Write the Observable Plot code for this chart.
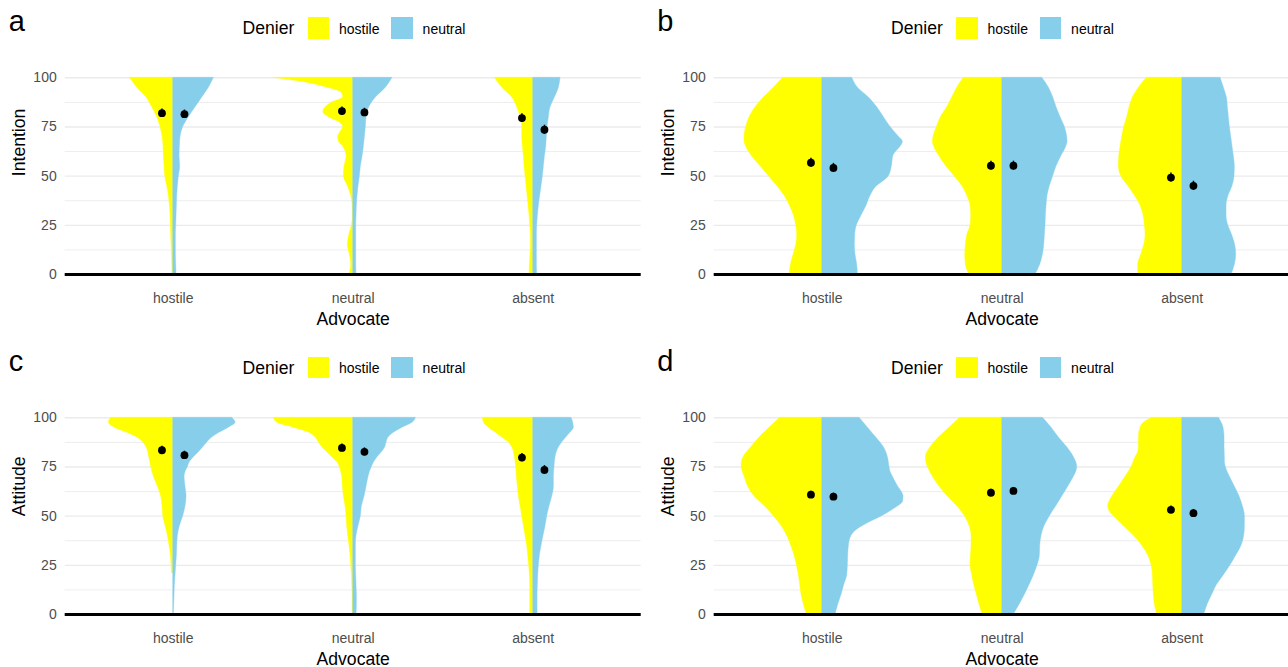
<!DOCTYPE html>
<html><head><meta charset="utf-8">
<script src="https://cdn.jsdelivr.net/npm/d3@7"></script>
<script src="https://cdn.jsdelivr.net/npm/@observablehq/plot@0.6"></script>
<style>
body{margin:0;background:#fff;font-family:"Liberation Sans",Arial,Helvetica,sans-serif;}
#chart{position:relative;width:1288px;height:667px;overflow:hidden;background:#fff;}
.panel{position:absolute;width:644px;height:334px;}
.panel svg{position:absolute;left:0;top:0;}
.tag{position:absolute;left:8.8px;top:7.2px;font-size:29px;line-height:1;color:#000;}
.leg-title{position:absolute;left:242.6px;top:20.1px;font-size:17.6px;line-height:1;color:#000;}
.key{position:absolute;top:17.3px;width:21.7px;height:21.7px;}
.leg-label{position:absolute;top:21.5px;font-size:14px;line-height:1;color:#000;}
</style></head>
<body><div id="chart"></div>
<script>
// ---------- categories & ticks ----------
const advocates = ["hostile", "neutral", "absent"];
const deniers = ["hostile", "neutral"];
const denierColors = ["#FFFF00", "#87CEEB"];
const yTicks = [0, 25, 50, 75, 100];
const yMinorTicks = [12.5, 37.5, 62.5, 87.5];

// ---------- violin half densities: [value, relative density] ----------
// Panel a (Intention, study 1)
const aHostileH = [[100,130],[95,108],[90,80],[85,63],[80,48],[75,38],[70,32],[65,29],[60,28],[55,26],[50,24],[45,18],[40,13],[35,10],[30,8],[25,7],[20,6],[15,5],[10,4],[5,3],[0,2]];
const aHostileN = [[100,122],[95,107],[90,87],[85,67],[80,47],[75,30],[70,22],[65,20],[60,19],[55,21],[50,17],[45,14],[40,12],[35,11],[30,10],[25,9],[20,8],[15,8],[10,8],[5,9],[0,10]];
const aNeutralH = [[100,240],[97.5,140],[95,78],[92.5,35],[90,30],[87.5,63],[85,83],[82.5,90],[80,73],[77.5,43],[75,30],[72.5,38],[70,45],[67.5,43],[65,30],[60,20],[55,26],[50,28],[45,16],[40,6],[35,2],[30,1],[25,4],[20,12],[15,16],[10,10],[5,6],[0,12]];
const aNeutralN = [[100,118],[95,98],[90,68],[85,48],[80,40],[75,38],[70,35],[65,32],[60,28],[55,23],[50,20],[45,16],[40,13],[35,11],[30,10],[25,9],[20,9],[15,9],[10,9],[5,9],[0,10]];
const aAbsentH = [[100,115],[95,93],[90,63],[85,48],[80,38],[75,33],[70,33],[65,31],[60,28],[55,26],[50,23],[45,20],[40,17],[35,14],[30,11],[25,9],[20,7],[15,7],[10,8],[5,10],[0,11]];
const aAbsentN = [[100,82],[95,77],[90,65],[85,52],[80,47],[75,43],[70,41],[65,39],[60,35],[55,32],[50,29],[45,25],[40,21],[35,17],[30,14],[25,12],[20,11],[15,11],[10,11],[5,11],[0,12]];
// Panel b (Intention, study 2)
const bHostileH = [[100,117],[95,145],[90,175],[85,200],[80,218],[75,228],[70,233],[67.5,233],[65,228],[60,210],[55,185],[50,160],[45,135],[40,113],[35,97],[30,85],[25,78],[20,75],[15,78],[10,86],[5,94],[0,98]];
const bHostileN = [[100,90],[95,107],[90,140],[85,165],[80,185],[75,205],[70,230],[67.5,242],[65,235],[62.5,222],[60,213],[55,209],[50,200],[47.5,185],[45,165],[40,145],[35,133],[30,118],[25,104],[20,99],[15,98],[10,100],[5,105],[0,107]];
const bNeutralH = [[100,115],[95,135],[90,150],[85,165],[80,184],[75,196],[70,206],[67.5,208],[65,204],[60,188],[55,168],[50,143],[45,120],[40,105],[35,95],[30,93],[25,95],[20,105],[15,109],[10,111],[5,109],[0,99]];
const bNeutralN = [[100,120],[95,140],[90,153],[85,163],[80,175],[75,188],[70,195],[67.5,196],[65,192],[60,177],[55,163],[50,153],[45,143],[40,136],[35,133],[30,131],[25,130],[20,128],[15,126],[10,122],[5,114],[0,100]];
const bAbsentH = [[100,106],[95,130],[90,148],[85,158],[80,165],[75,174],[70,180],[65,185],[60,189],[55,190],[50,183],[45,162],[40,142],[35,125],[30,116],[25,112],[20,110],[15,114],[10,123],[5,132],[0,132]];
const bAbsentN = [[100,115],[95,125],[90,134],[85,137],[80,140],[75,143],[70,147],[65,151],[60,155],[55,158],[50,157],[45,151],[40,139],[35,133],[30,133],[25,138],[20,150],[15,159],[10,162],[5,158],[0,148]];
// Panel c (Attitude, study 1)
const cHostileH = [[100,186],[97.5,193],[95,175],[92.5,140],[90,108],[87.5,90],[85,80],[80,72],[75,66],[70,58],[65,46],[60,36],[55,32],[50,30],[45,23],[40,16],[35,11],[30,7],[25,5],[21,4]];
const cHostileN = [[100,177],[97.5,187],[95,167],[92.5,140],[90,117],[87.5,102],[85,90],[82.5,77],[80,62],[77.5,50],[75,44],[72.5,37],[70,34],[65,37],[60,40],[55,37],[50,30],[45,20],[40,14],[35,12],[30,11],[25,9],[20,7],[15,5],[10,4],[5,3],[0,2]];
const cNeutralH = [[100,238],[97.5,228],[95,178],[92.5,133],[90,113],[87.5,103],[85,93],[82.5,78],[80,63],[77.5,48],[75,40],[72.5,36],[70,33],[65,31],[60,28],[55,23],[50,20],[45,18],[40,15],[35,11],[30,8],[25,6],[20,4],[15,3],[10,2],[5,2],[0,2]];
const cNeutralN = [[100,188],[97.5,178],[95,148],[92.5,123],[90,106],[87.5,100],[85,96],[82.5,86],[80,73],[77.5,63],[75,56],[72.5,50],[70,46],[65,40],[60,34],[55,26],[50,23],[45,16],[40,10],[35,8],[30,8],[25,8],[20,9],[15,10],[10,11],[5,11],[0,10]];
const cAbsentH = [[100,151],[97.5,148],[95,133],[92.5,113],[90,93],[87.5,73],[85,63],[80,55],[75,51],[70,49],[65,46],[60,43],[55,38],[50,33],[45,28],[40,23],[35,18],[30,15],[25,12],[20,10],[15,9],[10,9],[5,9],[0,9]];
const cAbsentN = [[100,115],[97.5,120],[95,122],[92.5,112],[90,99],[87.5,87],[85,77],[80,67],[75,64],[70,62],[65,62],[60,57],[55,49],[50,42],[45,37],[40,31],[35,25],[30,20],[25,17],[20,15],[15,14],[10,13],[5,13],[0,13]];
// Panel d (Attitude, study 2)
const dHostileH = [[100,126],[95,158],[90,188],[85,213],[80,236],[77.5,241],[75,242],[72.5,238],[70,233],[65,222],[60,203],[55,172],[50,145],[45,122],[40,105],[35,93],[30,83],[25,76],[20,70],[15,66],[10,62],[5,55],[0,46]];
const dHostileN = [[100,112],[95,137],[90,162],[85,185],[80,197],[75,202],[72.5,205],[70,212],[65,228],[62.5,238],[60,244],[57.5,243],[55,228],[52.5,205],[50,180],[47.5,150],[45,122],[42.5,100],[40,88],[35,80],[30,78],[25,77],[20,75],[15,66],[10,58],[5,48],[0,40]];
const dNeutralH = [[100,126],[95,158],[90,190],[85,215],[80,229],[77.5,228],[75,223],[70,208],[65,188],[60,163],[55,135],[50,112],[45,98],[40,92],[35,92],[30,94],[25,95],[20,90],[15,84],[10,76],[5,68],[0,59]];
const dNeutralN = [[100,122],[95,148],[90,170],[85,195],[80,215],[77.5,222],[75,225],[72.5,222],[70,215],[65,198],[60,180],[55,162],[50,143],[45,127],[40,118],[35,114],[30,113],[25,106],[20,95],[15,82],[10,68],[5,52],[0,35]];
const dAbsentH = [[100,90],[97.5,115],[95,125],[90,130],[85,130],[82.5,132],[80,140],[75,152],[70,170],[65,190],[60,210],[57.5,218],[55,222],[52.5,218],[50,205],[45,175],[40,145],[35,120],[30,102],[25,92],[20,88],[15,87],[10,85],[5,82],[0,75]];
const dAbsentN = [[100,110],[95,124],[90,127],[85,127],[80,128],[77.5,128],[75,131],[70,143],[65,158],[60,172],[55,182],[50,188],[45,188],[40,186],[35,178],[30,162],[25,145],[20,125],[15,104],[10,90],[5,76],[0,66]];

// ---------- means (hostile denier, neutral denier) per advocate ----------
const aMeanH = [82.0, 83.1, 79.5], aMeanN = [81.5, 82.4, 73.6];
const bMeanH = [56.8, 55.3, 49.3], bMeanN = [54.2, 55.3, 45.1];
const cMeanH = [83.5, 84.7, 79.8], cMeanN = [81.0, 82.7, 73.5];
const dMeanH = [60.9, 61.9, 53.2], dMeanN = [59.9, 62.8, 51.5];
// standard errors
const aSeH = [2.1, 2.1, 2.2], aSeN = [2.1, 2.1, 2.3];
const bSeH = [2.3, 2.3, 2.3], bSeN = [2.3, 2.3, 2.3];
const cSeH = [2.0, 2.0, 2.1], cSeN = [2.0, 2.0, 2.2];
const dSeH = [1.8, 1.8, 1.9], dSeN = [1.8, 1.8, 1.9];

// ---------- build ----------
const densityToWidth = 1 / 540;
const dodge = 0.0625;

const panels = [
  {tag: "a", left: 0, top: 0, yTitle: "Intention",
   halves: [[aHostileH, aHostileN], [aNeutralH, aNeutralN], [aAbsentH, aAbsentN]],
   means: [aMeanH, aMeanN], ses: [aSeH, aSeN]},
  {tag: "b", left: 648.5, top: 0, yTitle: "Intention",
   halves: [[bHostileH, bHostileN], [bNeutralH, bNeutralN], [bAbsentH, bAbsentN]],
   means: [bMeanH, bMeanN], ses: [bSeH, bSeN]},
  {tag: "c", left: 0, top: 339.5, yTitle: "Attitude",
   halves: [[cHostileH, cHostileN], [cNeutralH, cNeutralN], [cAbsentH, cAbsentN]],
   means: [cMeanH, cMeanN], ses: [cSeH, cSeN]},
  {tag: "d", left: 648.5, top: 339.5, yTitle: "Attitude",
   halves: [[dHostileH, dHostileN], [dNeutralH, dNeutralN], [dAbsentH, dAbsentN]],
   means: [dMeanH, dMeanN], ses: [dSeH, dSeN]}
];

function violinRows(halves) {
  const rows = [];
  advocates.forEach((adv, i) => {
    deniers.forEach((den, j) => {
      const arr = halves[i][j].slice().sort((p, q) => p[0] - q[0]);
      for (const [y, d] of arr) {
        const w = d * densityToWidth;
        const c = i + 1;
        rows.push({key: adv + "-" + den, den, y,
                   x1: j === 0 ? c - w : c, x2: j === 0 ? c : c + w});
      }
    });
  });
  return rows;
}

function meanRows(means, ses) {
  const rows = [];
  advocates.forEach((adv, i) => {
    deniers.forEach((den, j) => {
      rows.push({x: i + 1 + (j === 0 ? -dodge : dodge), m: means[j][i], se: ses[j][i]});
    });
  });
  return rows;
}

const chart = document.getElementById("chart");
for (const p of panels) {
  const div = document.createElement("div");
  div.className = "panel";
  div.style.left = p.left + "px";
  div.style.top = p.top + "px";

  const rows = violinRows(p.halves);
  const mrows = meanRows(p.means, p.ses);

  const svg = Plot.plot({
    width: 644, height: 334,
    marginLeft: 64.7, marginRight: 3.3, marginTop: 77.3, marginBottom: 60,
    x: {domain: [0.4, 3.6], axis: null},
    y: {domain: [0, 100], axis: null},
    color: {domain: deniers, range: denierColors},
    style: {fontFamily: "'Liberation Sans', Arial, Helvetica, sans-serif", fontSize: "14px", color: "#4d4d4d", background: "transparent", overflow: "visible"},
    marks: [
      Plot.ruleY(yMinorTicks, {stroke: "#ebebeb", strokeWidth: 0.9}),
      Plot.ruleY(yTicks, {stroke: "#ebebeb", strokeWidth: 1.4}),
      Plot.areaX(rows, {y: "y", x1: "x1", x2: "x2", z: "key", fill: "den", stroke: "den", strokeWidth: 0.4, curve: "monotone-y"}),
      Plot.ruleY([0], {stroke: "#000", strokeWidth: 3}),
      Plot.ruleX(mrows, {x: "x", y1: d => d.m - d.se, y2: d => d.m + d.se, stroke: "#000", strokeWidth: 1.5}),
      Plot.dot(mrows, {x: "x", y: "m", r: 3.9, fill: "#000", stroke: null}),
      Plot.axisY(yTicks, {tickSize: 0, tickPadding: 8.5, fontSize: 14, label: null, color: "#4d4d4d"}),
      Plot.axisX([1, 2, 3], {tickSize: 0, tickPadding: 19, fontSize: 14, label: null, color: "#4d4d4d", tickFormat: i => advocates[i - 1]}),
      Plot.text(["Advocate"], {text: d => d, frameAnchor: "bottom", dy: 50.5, fontSize: 17.6, fill: "#000"}),
      Plot.text([p.yTitle], {text: d => d, frameAnchor: "left", rotate: -90, dx: -46, fontSize: 17.6, fill: "#000"})
    ]
  });
  div.appendChild(svg);

  const tag = document.createElement("div");
  tag.className = "tag"; tag.textContent = p.tag;
  div.appendChild(tag);

  const lt = document.createElement("div");
  lt.className = "leg-title"; lt.textContent = "Denier";
  div.appendChild(lt);

  const keyLefts = [307.8, 391.3];
  const labelLefts = [339, 422.6];
  deniers.forEach((den, j) => {
    const k = document.createElement("div");
    k.className = "key"; k.style.left = keyLefts[j] + "px"; k.style.background = denierColors[j];
    div.appendChild(k);
    const l = document.createElement("div");
    l.className = "leg-label"; l.style.left = labelLefts[j] + "px"; l.textContent = den;
    div.appendChild(l);
  });

  chart.appendChild(div);
}
</script>
</body></html>
